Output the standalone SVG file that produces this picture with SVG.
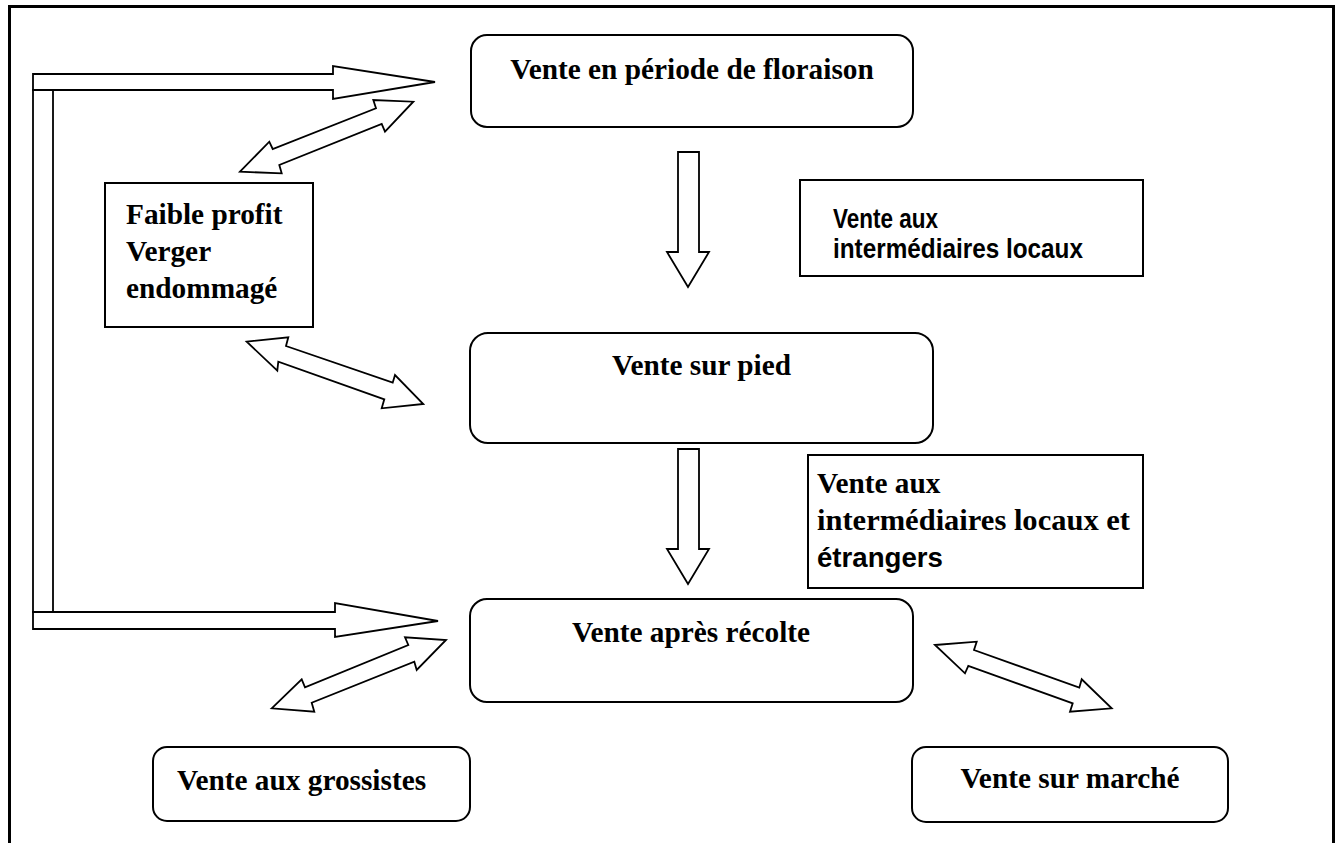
<svg xmlns="http://www.w3.org/2000/svg" width="1336" height="843" viewBox="0 0 1336 843">
<defs>
<style>
.frame{fill:none;stroke:#000;stroke-width:3}
.rbox{fill:#fff;stroke:#000;stroke-width:2}
.sbox{fill:#fff;stroke:#000;stroke-width:2}
.arr{fill:#fff;stroke:#000;stroke-width:1.8;stroke-linejoin:miter}
.serif{font-family:"Liberation Serif","Times New Roman",serif;font-weight:bold;font-size:29.3px;fill:#000}
.sans{font-family:"Liberation Sans",Arial,sans-serif;font-weight:bold;font-size:28px;fill:#000}
</style>
</defs>
<rect x="0" y="0" width="1336" height="843" fill="#fff"/>
<path class="frame" d="M9.5,845 V6.5 H1333.5 V845"/>

<g id="connectors">
  <rect class="arr" x="33" y="90" width="20" height="522"/>
  <polygon class="arr" points="33,90 33,74 333,74 333,66 435,82 333,99 333,90"/>
  <polygon class="arr" points="33,612 335,612 335,603 438,621 335,637 335,629 33,629"/>
  <polygon class="arr" points="678,152 699,152 699,252 709,252 688,287 667,252 678,252"/>
  <polygon class="arr" points="678,449 699,449 699,549 709,549 688,584 667,549 678,549"/>
  <polygon class="arr" points="240,171.7 269.3,141.7 272.7,149 376,108.3 373.3,100 413.3,101.7 385,131.7 381.7,124 279.3,165 281.7,173.3"/>
  <polygon class="arr" points="246.7,341.7 288.3,337.3 286,346 392.7,382.7 395,375 423.3,404 381.7,408.3 384.3,399.3 278.3,361.7 277.3,370.7"/>
  <polygon class="arr" points="271.7,708.3 301.7,679.3 305,687.3 408.3,645 405,637.3 446,640 416.7,670 414.3,661.7 311.7,702.7 314.3,711.7"/>
  <polygon class="arr" points="935,645 976.7,641.7 974,650 1079.3,687.7 1081.7,679.3 1111.7,708.3 1070,711.7 1072.7,703.3 968.3,666 965,673.3"/>
</g>

<g id="node-floraison">
  <rect class="rbox" x="471" y="35" width="442" height="92" rx="16"/>
  <text class="serif" x="692" y="79" text-anchor="middle">Vente en période de floraison</text>
</g>
<g id="node-pied">
  <rect class="rbox" x="470" y="333" width="463" height="110" rx="18"/>
  <text class="serif" x="701.5" y="375" text-anchor="middle">Vente sur pied</text>
</g>
<g id="node-recolte">
  <rect class="rbox" x="470" y="599" width="443" height="103" rx="17"/>
  <text class="serif" x="691" y="642" text-anchor="middle">Vente après récolte</text>
</g>
<g id="node-grossistes">
  <rect class="rbox" x="153" y="747" width="317" height="74" rx="14"/>
  <text class="serif" x="177" y="790">Vente aux grossistes</text>
</g>
<g id="node-marche">
  <rect class="rbox" x="912" y="747" width="316" height="75" rx="14"/>
  <text class="serif" x="1070" y="788" text-anchor="middle">Vente sur marché</text>
</g>
<g id="node-faible">
  <rect class="sbox" x="105" y="183" width="208" height="144"/>
  <text class="serif" x="126" y="224">Faible profit</text>
  <text class="serif" x="126" y="261">Verger</text>
  <text class="serif" x="126" y="298">endommagé</text>
</g>
<g id="label-locaux">
  <rect class="sbox" x="800" y="180" width="343" height="96"/>
  <text class="sans" x="833" y="228" textLength="105" lengthAdjust="spacingAndGlyphs">Vente aux</text>
  <text class="sans" x="833" y="258" textLength="250" lengthAdjust="spacingAndGlyphs">intermédiaires locaux</text>
</g>
<g id="label-etrangers">
  <rect class="sbox" x="808" y="455" width="335" height="133"/>
  <text class="serif" x="817" y="493">Vente aux</text>
  <text class="serif" x="817" y="530" textLength="313" lengthAdjust="spacingAndGlyphs">intermédiaires locaux et</text>
  <text class="sans" x="817" y="567" textLength="126" lengthAdjust="spacingAndGlyphs">étrangers</text>
</g>
</svg>
